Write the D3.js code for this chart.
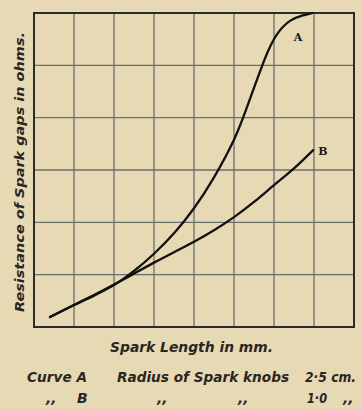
<!DOCTYPE html>
<html>
<head>
<meta charset="utf-8">
<script src="https://cdn.jsdelivr.net/npm/d3@7"></script>
<style>
  html, body { margin: 0; padding: 0; background: #e6d9b4; }
  svg { display: block; }
  .txt { font-family: "DejaVu Sans", sans-serif; font-style: italic; font-weight: bold; fill: #2a2622; }
</style>
</head>
<body>
<div id="chart"></div>
<script>
// Grid divisions (arbitrary units, no numeric tick labels shown)
const xTicks = [0, 1, 2, 3, 4, 5, 6, 7, 8];
const yTicks = [0, 1, 2, 3, 4, 5, 6];

// Curve A: knob radius 2.5 cm
const curveAX = [0.40, 1.00, 1.50, 2.00, 2.50, 3.00, 3.50, 4.00, 4.50, 5.00, 5.30, 5.60, 5.85, 6.10, 6.40, 6.70, 6.95];
const curveAY = [0.19, 0.42, 0.60, 0.80, 1.07, 1.40, 1.79, 2.27, 2.86, 3.58, 4.15, 4.78, 5.27, 5.62, 5.85, 5.95, 6.00];

// Curve B: knob radius 1.0 cm
const curveBX = [0.40, 1.00, 1.50, 2.00, 2.50, 3.00, 3.50, 4.00, 4.50, 5.00, 5.50, 6.00, 6.50, 6.98];
const curveBY = [0.19, 0.42, 0.61, 0.81, 1.02, 1.23, 1.43, 1.63, 1.85, 2.10, 2.39, 2.71, 3.03, 3.38];

const seriesNames = ["A", "B"];
const xTitle = "Spark Length in mm.";
const yTitle = "Resistance of Spark gaps in ohms.";

const W = 362, H = 409;
const svg = d3.select("#chart").append("svg").attr("width", W).attr("height", H);

svg.append("rect").attr("width", W).attr("height", H).attr("fill", "#e6d9b4");

const x = d3.scaleLinear().domain([0, 8]).range([34, 354]);
const y = d3.scaleLinear().domain([0, 6]).range([327, 13]);

// grid
const grid = svg.append("g");
grid.selectAll("line.v").data(xTicks.slice(1, -1)).join("line")
  .attr("x1", d => x(d)).attr("x2", d => x(d))
  .attr("y1", y(0)).attr("y2", y(6))
  .attr("stroke", "#6b6e6e").attr("stroke-width", 1.3);
grid.selectAll("line.h").data(yTicks.slice(1, -1)).join("line")
  .attr("y1", d => y(d)).attr("y2", d => y(d))
  .attr("x1", x(0)).attr("x2", x(8))
  .attr("stroke", "#6b6e6e").attr("stroke-width", 1.3);

// frame
svg.append("rect")
  .attr("x", x(0)).attr("y", y(6))
  .attr("width", x(8) - x(0)).attr("height", y(0) - y(6))
  .attr("fill", "none").attr("stroke", "#2b2b2b").attr("stroke-width", 2);

// curves
const line = d3.line()
  .x(d => x(d[0])).y(d => y(d[1]))
  .curve(d3.curveNatural);

const dataA = curveAX.map((v, i) => [v, curveAY[i]]);
const dataB = curveBX.map((v, i) => [v, curveBY[i]]);

[dataA, dataB].forEach(d => {
  svg.append("path").datum(d).attr("d", line)
    .attr("fill", "none").attr("stroke", "#111").attr("stroke-width", 2.3)
    .attr("stroke-linecap", "round");
});

// curve labels
svg.append("text").attr("x", x(6.6)).attr("y", 41)
  .attr("text-anchor", "middle")
  .style("font-family", "'DejaVu Serif', serif").style("font-weight", "bold").style("font-size", "11px")
  .attr("fill", "#1a1a1a").text(seriesNames[0]);
svg.append("text").attr("x", x(6.98) + 5).attr("y", y(3.38) + 5)
  .style("font-family", "'DejaVu Serif', serif").style("font-weight", "bold").style("font-size", "11px")
  .attr("fill", "#1a1a1a").text(seriesNames[1]);

// axis titles
svg.append("text").attr("class", "txt")
  .attr("transform", "translate(24, 172) rotate(-90)")
  .attr("text-anchor", "middle").style("font-size", "13px")
  .attr("textLength", 280).attr("lengthAdjust", "spacingAndGlyphs")
  .text(yTitle);

svg.append("text").attr("class", "txt")
  .attr("x", 110).attr("y", 352).style("font-size", "14px")
  .attr("textLength", 163).attr("lengthAdjust", "spacingAndGlyphs")
  .text(xTitle);

// legend
const legRow1 = [["Curve A", 27, 60], ["Radius of Spark knobs", 117, 172], ["2·5 cm.", 305, 51]];
const legRow2 = [[",,", 46, 0], ["B", 77, 0], [",,", 157, 0], [",,", 238, 0], ["1·0", 307, 20], [",,", 343, 0]];
legRow1.forEach(([t, px, len]) => svg.append("text").attr("class", "txt")
  .attr("x", px).attr("y", 382).style("font-size", "14px")
  .attr("textLength", len).attr("lengthAdjust", "spacingAndGlyphs").text(t));
legRow2.forEach(([t, px, len]) => {
  const el = svg.append("text").attr("class", "txt")
    .attr("x", px).attr("y", 403).style("font-size", "14px").text(t);
  if (len) el.attr("textLength", len).attr("lengthAdjust", "spacingAndGlyphs");
});
</script>
</body>
</html>
